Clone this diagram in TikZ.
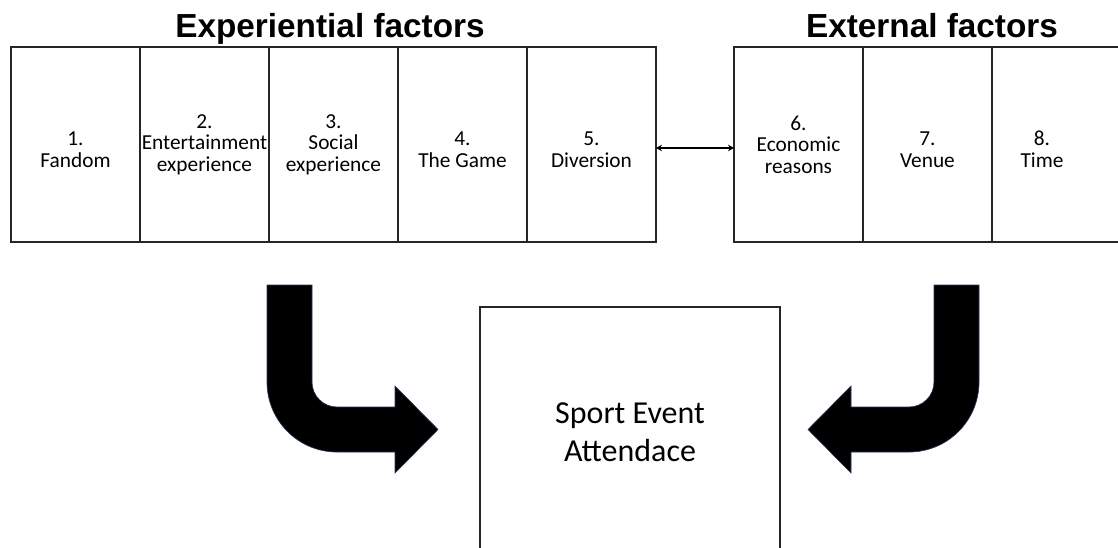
\documentclass[tikz,border=0pt]{standalone}
\usepackage{fontspec}
\setmainfont{Carlito}
\newfontfamily\headfont{Liberation Sans}
\usetikzlibrary{arrows.meta}

\tikzset{every picture/.style={line width=0.75pt}}
\tikzset{
  factor/.style={draw=black!85, line width=1.4pt, inner sep=0pt, outer sep=0pt,
    minimum width=96.75pt, minimum height=146.25pt, align=center,
    font=\fontsize{16}{16.2}\selectfont},
  factortext/.style={inner sep=0pt, align=center, font=\fontsize{16}{16.2}\selectfont},
  heading/.style={anchor=base, font=\headfont\bfseries\fontsize{25}{28}\selectfont},
  bigarrow/.style={fill=black, draw={rgb,255:red,38;green,58;blue,92}, line width=0.5pt}
}
% two-line labels sit a little lower in their box
\newcommand{\lowtop}{\rule{0pt}{18pt}}

\begin{document}
\begin{tikzpicture}[x=0.75pt,y=0.75pt,yscale=-1,xscale=1]
	\useasboundingbox (0,0) rectangle (1118,547);

	% Headings
	\draw (330,37) node [heading] (hexp) {Experiential factors};
	\draw (932,37) node [heading] (hext) {External factors};

	%Shape: Rectangle row, experiential
	\draw (75.5,144.5) node [factor] (f1) {\lowtop 1.\\Fandom};
	\draw (204.5,144.5) node [factor] (f2) {2.\\Entertainment\\experience};
	\draw (333.5,144.5) node [factor] (f3) {3.\\Social\\experience};
	\draw (462.5,144.5) node [factor] (f4) {\lowtop 4.\\The Game};
	\draw (591.5,144.5) node [factor] (f5) {\lowtop 5.\\Diversion};

	%Shape: Rectangle row, external
	\draw (798.5,144.5) node [factor] (f6) {6.\\Economic\\reasons};
	\draw (927.5,144.5) node [factor] (f7) {\lowtop 7.\\Venue};
	% open box on the right edge
	\draw [draw=black!85, line width=1.4pt] (f7.north east) -- ++(140,0) (f7.south east) -- ++(140,0);
	% Text Node
	\draw (1042,144.5) node [factortext] (f8) {\lowtop 8.\\Time};

	% link between the two groups
	\draw [{Stealth[length=4.5pt,width=5pt]}-{Stealth[length=4.5pt,width=5pt]}, line width=1.1pt]
		([yshift=2.6pt]f5.east) -- ([yshift=2.6pt]f6.west);

	%Shape: Rectangle, outcome
	\draw (630,432) node [draw=black!85, line width=1.4pt, minimum width=225pt, minimum height=187.5pt,
		align=center, font=\fontsize{24}{28.5}\selectfont] (att) {Sport Event\\Attendace};

	%Shape: Bent arrow, left
	\draw [bigarrow] (267,285) -- (267,382) arc[start angle=180,end angle=90,radius=70] -- (395,452)
		-- (395,473) -- (438,429.5) -- (395,386) -- (395,407) -- (337,407)
		arc[start angle=90,end angle=180,radius=25] -- (312,285) -- cycle ;

	%Shape: Bent arrow, right
	\draw [bigarrow] (979,285) -- (979,382) arc[start angle=0,end angle=90,radius=70] -- (851,452)
		-- (851,473) -- (808,429.5) -- (851,386) -- (851,407) -- (909,407)
		arc[start angle=90,end angle=0,radius=25] -- (934,285) -- cycle ;

\end{tikzpicture}
\end{document}
